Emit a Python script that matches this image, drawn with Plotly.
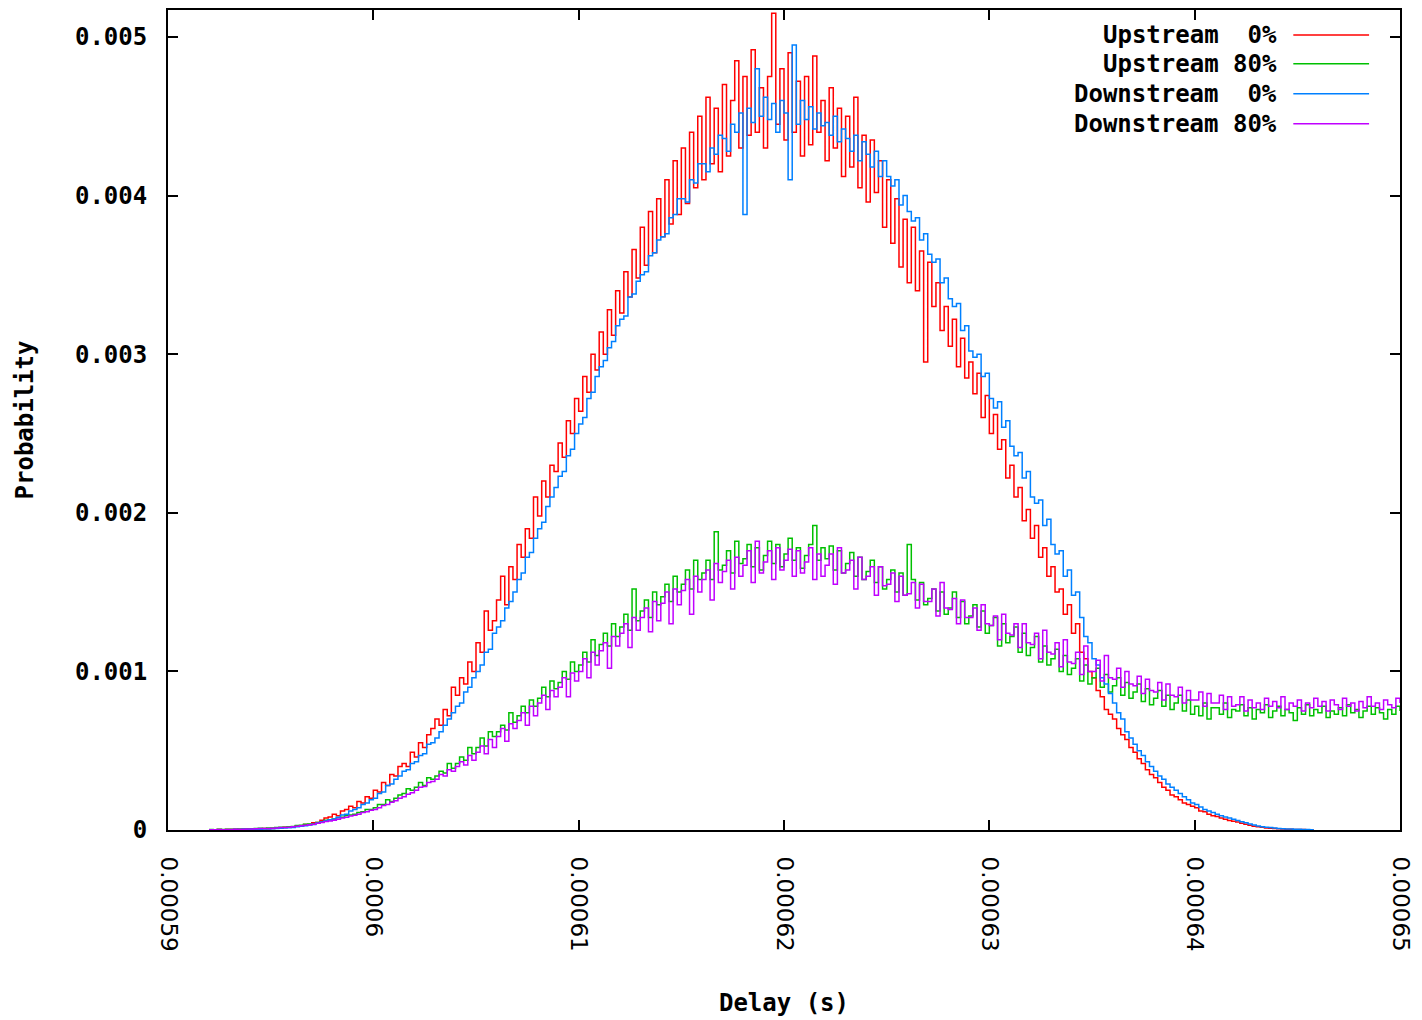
import numpy as np
import plotly.graph_objects as go

# Histogram bins: delay (s) of the first bin and bin width
FIRST_BIN_S = 0.000592
BIN_WIDTH_S = 2e-7

# Probabilities in units of 1e-3 (one row = 1 us of delay)
UP_0_PERMILLE = [
    0.002, 0.001, 0.003, 0.002, 0.003,
    0.003, 0.004, 0.003, 0.005, 0.004,
    0.005, 0.007, 0.006, 0.009, 0.008,
    0.010, 0.013, 0.012, 0.017, 0.018,
    0.020, 0.026, 0.027, 0.034, 0.035,
    0.045, 0.048, 0.062, 0.075, 0.082,
    0.10, 0.09, 0.12, 0.13, 0.15,
    0.14, 0.18, 0.17, 0.21, 0.20,
    0.25, 0.24, 0.30, 0.28, 0.35,
    0.34, 0.40, 0.42, 0.40, 0.49,
    0.46, 0.55, 0.52, 0.60, 0.64,
    0.70, 0.66, 0.76, 0.72, 0.90,
    0.85, 0.96, 0.92, 1.06, 1.00,
    1.18, 1.12, 1.38, 1.26, 1.32,
    1.45, 1.60, 1.42, 1.66, 1.58,
    1.80, 1.72, 1.90, 1.84, 2.10,
    1.98, 2.20, 2.10, 2.30, 2.26,
    2.44, 2.35, 2.58, 2.50, 2.72,
    2.64, 2.86, 2.76, 3.00, 2.90,
    3.14, 3.00, 3.28, 3.12, 3.40,
    3.26, 3.52, 3.36, 3.66, 3.48,
    3.80, 3.56, 3.90, 3.64, 3.98,
    3.74, 4.10, 3.82, 4.22, 3.88,
    4.30, 3.95, 4.40, 4.05, 4.50,
    4.10, 4.62, 4.20, 4.55, 4.15,
    4.70, 4.25, 4.60, 4.85, 4.30,
    4.75, 4.38, 4.92, 4.40, 4.68,
    4.30, 4.75, 5.15, 4.45, 4.80,
    4.35, 4.90, 4.40, 4.72, 4.25,
    4.75, 4.32, 4.88, 4.40, 4.60,
    4.22, 4.68, 4.30, 4.55, 4.12,
    4.50, 4.18, 4.62, 4.05, 4.38,
    3.96, 4.35, 4.02, 4.22, 3.80,
    4.10, 3.70, 3.98, 3.55, 3.85,
    3.45, 3.80, 3.40, 3.65, 2.95,
    3.58, 3.30, 3.45, 3.15, 3.30,
    3.05, 3.22, 2.92, 3.10, 2.85,
    2.95, 2.75, 2.88, 2.60, 2.74,
    2.50, 2.62, 2.40, 2.46, 2.22,
    2.30, 2.10, 2.16, 1.95, 2.02,
    1.84, 1.92, 1.72, 1.78, 1.60,
    1.66, 1.50, 1.52, 1.36, 1.42,
    1.24, 1.30, 1.12, 1.08, 1.00,
    0.96, 0.88, 0.84, 0.76, 0.73,
    0.70, 0.64, 0.60, 0.57, 0.52,
    0.49, 0.45, 0.42, 0.38, 0.35,
    0.33, 0.30, 0.27, 0.25, 0.22,
    0.21, 0.19, 0.17, 0.16, 0.15,
    0.14, 0.12, 0.115, 0.10, 0.09,
    0.085, 0.075, 0.068, 0.06, 0.055,
    0.05, 0.042, 0.036, 0.03, 0.024,
    0.02, 0.017, 0.013, 0.011, 0.009,
    0.008, 0.006, 0.005, 0.004, 0.003,
    0.003, 0.003, 0.002, 0.002, 0.002,
]

UP_80_PERMILLE = [
    0.003, 0.002, 0.004, 0.003, 0.005,
    0.005, 0.004, 0.007, 0.006, 0.008,
    0.008, 0.009, 0.011, 0.010, 0.013,
    0.013, 0.015, 0.018, 0.017, 0.021,
    0.022, 0.028, 0.030, 0.036, 0.038,
    0.040, 0.048, 0.052, 0.062, 0.064,
    0.070, 0.078, 0.080, 0.092, 0.095,
    0.100, 0.11, 0.115, 0.13, 0.13,
    0.14, 0.16, 0.16, 0.19, 0.18,
    0.20, 0.22, 0.23, 0.26, 0.25,
    0.27, 0.30, 0.28, 0.33, 0.32,
    0.34, 0.37, 0.36, 0.42, 0.39,
    0.42, 0.46, 0.44, 0.52, 0.48,
    0.52, 0.58, 0.53, 0.62, 0.59,
    0.62, 0.66, 0.63, 0.74, 0.68,
    0.72, 0.78, 0.74, 0.82, 0.78,
    0.83, 0.90, 0.84, 0.94, 0.89,
    0.93, 1.00, 0.95, 1.06, 1.00,
    1.04, 1.12, 1.06, 1.20, 1.10,
    1.17, 1.24, 1.16, 1.30, 1.22,
    1.28, 1.36, 1.26, 1.52, 1.32,
    1.38, 1.45, 1.34, 1.50, 1.42,
    1.47, 1.55, 1.44, 1.60, 1.50,
    1.55, 1.64, 1.52, 1.70, 1.58,
    1.62, 1.70, 1.58, 1.88, 1.64,
    1.67, 1.76, 1.62, 1.82, 1.68,
    1.71, 1.80, 1.66, 1.78, 1.64,
    1.73, 1.82, 1.68, 1.80, 1.66,
    1.74, 1.84, 1.70, 1.78, 1.65,
    1.73, 1.80, 1.92, 1.70, 1.78,
    1.71, 1.79, 1.64, 1.76, 1.62,
    1.68, 1.75, 1.60, 1.72, 1.58,
    1.63, 1.70, 1.56, 1.66, 1.52,
    1.58, 1.64, 1.50, 1.62, 1.48,
    1.80, 1.58, 1.45, 1.56, 1.42,
    1.46, 1.52, 1.38, 1.50, 1.36,
    1.40, 1.50, 1.34, 1.44, 1.30,
    1.35, 1.42, 1.28, 1.38, 1.24,
    1.29, 1.34, 1.16, 1.30, 1.18,
    1.22, 1.28, 1.12, 1.24, 1.10,
    1.15, 1.22, 1.06, 1.16, 1.04,
    1.08, 1.14, 1.00, 1.10, 0.98,
    1.02, 1.08, 0.94, 1.04, 0.92,
    0.96, 1.02, 0.90, 0.98, 0.87,
    0.91, 0.96, 0.85, 0.93, 0.83,
    0.87, 0.92, 0.81, 0.89, 0.79,
    0.83, 0.88, 0.78, 0.85, 0.76,
    0.80, 0.85, 0.75, 0.82, 0.73,
    0.78, 0.72, 0.80, 0.70, 0.77,
    0.77, 0.73, 0.80, 0.71, 0.76,
    0.75, 0.79, 0.72, 0.77, 0.70,
    0.76, 0.74, 0.79, 0.71, 0.75,
    0.78, 0.72, 0.76, 0.74, 0.69,
    0.77, 0.73, 0.79, 0.72, 0.76,
    0.74, 0.78, 0.71, 0.75, 0.73,
    0.77, 0.72, 0.79, 0.74, 0.76,
    0.71, 0.75, 0.78, 0.73, 0.77,
    0.74, 0.70, 0.76, 0.73, 0.78,
    0.75,
]

DOWN_0_PERMILLE = [
    0.001, 0.001, 0.002, 0.001, 0.002,
    0.002, 0.003, 0.002, 0.004, 0.003,
    0.004, 0.005, 0.005, 0.007, 0.007,
    0.008, 0.010, 0.011, 0.013, 0.014,
    0.016, 0.020, 0.023, 0.027, 0.031,
    0.035, 0.042, 0.050, 0.056, 0.064,
    0.07, 0.08, 0.095, 0.10, 0.12,
    0.13, 0.14, 0.16, 0.17, 0.19,
    0.20, 0.23, 0.24, 0.28, 0.29,
    0.32, 0.34, 0.37, 0.38, 0.42,
    0.43, 0.47, 0.48, 0.54, 0.55,
    0.58, 0.62, 0.66, 0.70, 0.74,
    0.78, 0.80, 0.87, 0.90, 0.96,
    1.00, 1.04, 1.12, 1.14, 1.24,
    1.28, 1.32, 1.40, 1.44, 1.50,
    1.58, 1.62, 1.72, 1.75, 1.84,
    1.90, 1.94, 2.04, 2.10, 2.16,
    2.23, 2.26, 2.36, 2.40, 2.50,
    2.56, 2.60, 2.72, 2.76, 2.86,
    2.92, 2.96, 3.04, 3.08, 3.18,
    3.22, 3.24, 3.36, 3.38, 3.46,
    3.50, 3.52, 3.62, 3.64, 3.72,
    3.74, 3.76, 3.86, 3.88, 3.98,
    3.98, 3.96, 4.10, 4.08, 4.20,
    4.20, 4.15, 4.30, 4.26, 4.38,
    4.36, 4.28, 4.45, 4.40, 4.52,
    3.88, 4.55, 4.46, 4.80, 4.50,
    4.62, 4.48, 4.58, 4.40, 4.60,
    4.52, 4.10, 4.95, 4.45, 4.60,
    4.48, 4.56, 4.42, 4.52, 4.44,
    4.46, 4.38, 4.50, 4.34, 4.42,
    4.36, 4.28, 4.38, 4.22, 4.34,
    4.26, 4.18, 4.28, 4.12, 4.22,
    4.12, 4.06, 4.10, 3.94, 4.00,
    3.90, 3.84, 3.86, 3.72, 3.76,
    3.63, 3.58, 3.60, 3.45, 3.48,
    3.35, 3.30, 3.32, 3.15, 3.18,
    3.02, 2.98, 3.00, 2.86, 2.88,
    2.72, 2.66, 2.70, 2.54, 2.58,
    2.42, 2.36, 2.38, 2.22, 2.26,
    2.10, 2.06, 2.08, 1.92, 1.96,
    1.80, 1.74, 1.76, 1.60, 1.64,
    1.48, 1.50, 1.34, 1.22, 1.18,
    1.08, 1.04, 0.96, 0.92, 0.86,
    0.80, 0.74, 0.70, 0.62, 0.58,
    0.54, 0.50, 0.47, 0.43, 0.40,
    0.37, 0.34, 0.32, 0.29, 0.27,
    0.25, 0.23, 0.21, 0.19, 0.17,
    0.16, 0.145, 0.13, 0.12, 0.11,
    0.10, 0.09, 0.082, 0.075, 0.068,
    0.06, 0.052, 0.045, 0.038, 0.031,
    0.025, 0.021, 0.018, 0.015, 0.012,
    0.010, 0.008, 0.007, 0.006, 0.005,
    0.004, 0.003, 0.003, 0.002, 0.002,
]

DOWN_80_PERMILLE = [
    0.002, 0.002, 0.003, 0.002, 0.003,
    0.003, 0.004, 0.005, 0.005, 0.006,
    0.007, 0.008, 0.009, 0.009, 0.010,
    0.011, 0.013, 0.015, 0.016, 0.018,
    0.020, 0.024, 0.027, 0.030, 0.033,
    0.036, 0.042, 0.047, 0.053, 0.057,
    0.062, 0.068, 0.075, 0.080, 0.088,
    0.093, 0.10, 0.11, 0.115, 0.125,
    0.13, 0.14, 0.155, 0.16, 0.175,
    0.185, 0.20, 0.21, 0.225, 0.235,
    0.25, 0.27, 0.275, 0.30, 0.305,
    0.32, 0.35, 0.34, 0.38, 0.37,
    0.40, 0.43, 0.41, 0.47, 0.44,
    0.49, 0.53, 0.48, 0.57, 0.52,
    0.59, 0.64, 0.56, 0.67, 0.64,
    0.69, 0.74, 0.66, 0.78, 0.72,
    0.80, 0.85, 0.76, 0.88, 0.84,
    0.90, 0.96, 0.84, 0.99, 0.94,
    1.00, 1.08, 0.96, 1.12, 1.04,
    1.13, 1.18, 1.02, 1.22, 1.16,
    1.24, 1.30, 1.15, 1.34, 1.26,
    1.34, 1.40, 1.25, 1.44, 1.32,
    1.43, 1.50, 1.30, 1.52, 1.42,
    1.51, 1.58, 1.36, 1.60, 1.50,
    1.58, 1.64, 1.45, 1.68, 1.56,
    1.63, 1.70, 1.52, 1.72, 1.60,
    1.67, 1.76, 1.56, 1.82, 1.62,
    1.69, 1.76, 1.58, 1.78, 1.64,
    1.70, 1.77, 1.60, 1.76, 1.62,
    1.69, 1.78, 1.58, 1.74, 1.60,
    1.67, 1.74, 1.55, 1.78, 1.62,
    1.64, 1.70, 1.52, 1.72, 1.58,
    1.60, 1.66, 1.48, 1.66, 1.54,
    1.55, 1.62, 1.44, 1.60, 1.48,
    1.49, 1.56, 1.40, 1.55, 1.44,
    1.44, 1.52, 1.35, 1.56, 1.40,
    1.39, 1.46, 1.30, 1.45, 1.34,
    1.34, 1.40, 1.26, 1.42, 1.30,
    1.29, 1.35, 1.20, 1.36, 1.24,
    1.23, 1.30, 1.15, 1.30, 1.18,
    1.17, 1.24, 1.08, 1.26, 1.12,
    1.11, 1.18, 1.03, 1.20, 1.06,
    1.05, 1.12, 0.98, 1.16, 1.00,
    1.00, 1.07, 0.94, 1.10, 0.96,
    0.95, 1.02, 0.90, 1.00, 0.92,
    0.91, 0.97, 0.86, 0.95, 0.88,
    0.87, 0.93, 0.82, 0.92, 0.85,
    0.84, 0.90, 0.80, 0.88, 0.82,
    0.82, 0.87, 0.78, 0.86, 0.80,
    0.80, 0.85, 0.76, 0.84, 0.78,
    0.79, 0.84, 0.75, 0.82, 0.77,
    0.80, 0.76, 0.83, 0.78, 0.81,
    0.77, 0.84, 0.76, 0.80, 0.78,
    0.82, 0.75, 0.80, 0.77, 0.83,
    0.78, 0.81, 0.75, 0.82, 0.79,
    0.76, 0.83, 0.78, 0.80, 0.75,
    0.81, 0.77, 0.84, 0.78, 0.80,
    0.76, 0.82, 0.79, 0.77, 0.83,
    0.80,
]

SERIES_NAMES = ["Upstream\u00a0\u00a00%", "Upstream\u00a080%",
                "Downstream\u00a0\u00a00%", "Downstream\u00a080%"]
SERIES_VALUES = [UP_0_PERMILLE, UP_80_PERMILLE, DOWN_0_PERMILLE, DOWN_80_PERMILLE]
SERIES_COLORS = ["#ff0000", "#00c000", "#0080ff", "#c000ff"]

X_TICK_VALUES = [0.00059, 0.00060, 0.00061, 0.00062, 0.00063, 0.00064, 0.00065]
X_TICK_LABELS = ["0.00059", "0.0006", "0.00061", "0.00062", "0.00063", "0.00064", "0.00065"]
Y_TICK_VALUES = [0, 0.001, 0.002, 0.003, 0.004, 0.005]
Y_TICK_LABELS = ["0", "0.001", "0.002", "0.003", "0.004", "0.005"]

MONO = "DejaVu Sans Mono"

fig = go.Figure()
for name, vals, color in zip(SERIES_NAMES, SERIES_VALUES, SERIES_COLORS):
    x = FIRST_BIN_S + BIN_WIDTH_S * np.arange(len(vals))
    y = np.array(vals) * 1e-3
    fig.add_trace(go.Scatter(
        x=x, y=y, mode="lines", name=name, showlegend=False,
        line=dict(color=color, width=1.5, shape="hv"),
    ))

# key (text right-aligned, line sample on the right, like the original)
row_y = [0.9696, 0.9343, 0.8978, 0.8613]
for name, color, yy in zip(SERIES_NAMES, SERIES_COLORS, row_y):
    fig.add_annotation(
        x=0.902, y=yy, xref="paper", yref="paper", text="<b>%s</b>" % name,
        showarrow=False, xanchor="right", yanchor="middle",
        font=dict(family=MONO, size=24, color="black"),
    )
    fig.add_shape(type="line", xref="paper", yref="paper",
                  x0=0.9134, x1=0.9749, y0=yy, y1=yy,
                  line=dict(color=color, width=1.5))

fig.update_layout(
    width=1422, height=1020,
    margin=dict(l=168, r=18, t=8, b=190),
    paper_bgcolor="white", plot_bgcolor="white",
    showlegend=False,
)
fig.update_xaxes(
    range=[0.00059, 0.00065],
    tickmode="array", tickvals=X_TICK_VALUES, ticktext=X_TICK_LABELS,
    tickangle=90, tickfont=dict(family="DejaVu Sans", size=23, color="black"),
    ticks="inside", ticklen=10, tickwidth=2, tickcolor="black",
    showline=True, linecolor="black", linewidth=2, mirror="ticks",
    showgrid=False, zeroline=False, ticklabelstandoff=20,
    title=dict(text="<b>Delay (s)</b>", font=dict(family=MONO, size=24, color="black"),
               standoff=43),
)
fig.update_yaxes(
    range=[0, 0.00517],
    tickmode="array", tickvals=Y_TICK_VALUES,
    ticktext=["<b>%s</b>" % t for t in Y_TICK_LABELS],
    tickfont=dict(family=MONO, size=24, color="black"),
    ticks="inside", ticklen=10, tickwidth=2, tickcolor="black",
    showline=True, linecolor="black", linewidth=2, mirror="ticks",
    showgrid=False, zeroline=False, ticklabelstandoff=14,
    title=dict(text="<b>Probability</b>", font=dict(family=MONO, size=24, color="black"),
               standoff=35),
)

fig.write_html("out.html", config={"displayModeBar": False},
               post_script="document.body.style.margin='0px';")
